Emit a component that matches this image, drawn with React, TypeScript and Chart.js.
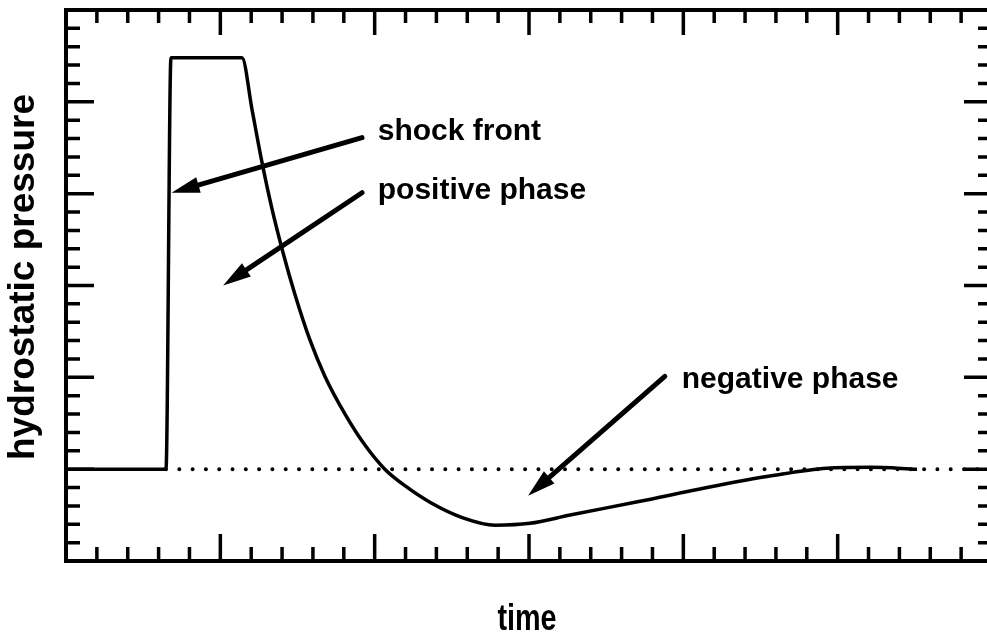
import { useEffect, useRef } from "react";
import { Chart, registerables } from "chart.js";

Chart.register(...registerables);

// Overpressure trace of a blast wave (arbitrary units)
const timeValues = [
  0, 3.24, 3.4, 5.7, 6.03, 6.35, 6.67, 7.03, 7.42, 7.9, 8.39, 9.04, 9.69, 10.33,
  10.98, 11.79, 12.86, 13.9, 15.03, 16.33, 18.6, 20.77, 22.9, 24.65, 26.05, 27.57,
];
const pressureValues = [
  0, 0, 4.48, 4.48, 3.91, 3.34, 2.84, 2.36, 1.9, 1.41, 1.01, 0.6, 0.26, 0,
  -0.18, -0.36, -0.53, -0.61, -0.59, -0.5, -0.35, -0.2, -0.07, 0.01, 0.02, 0,
];

// ambient-pressure reference line
const ambientTimes = [3.24, 30];
const ambientValues = [0, 0];

// axis extents and tick steps
const timeRange = [0, 30];
const pressureRange = [-1, 5];
const timeMinorStep = 1;
const timeMajorEvery = 5;
const pressureMinorStep = 0.2;
const pressureMajorEvery = 5;

// annotations: label, label anchor, arrow tail, arrow tip (data units)
const noteLabels = ["shock front", "positive phase", "negative phase"];
const noteLabelX = [10.1, 10.1, 19.95];
const noteLabelY = [3.58, 2.94, 0.88];
const arrowTailX = [9.59, 9.59, 19.4];
const arrowTailY = [3.61, 3.01, 1.01];
const arrowTipX = [3.42, 5.09, 14.97];
const arrowTipY = [3.01, 2.0, -0.29];

const xTitle = "time";
const yTitle = "hydrostatic pressure";

const FONT = "'Liberation Sans', Arial, sans-serif";

const framePlugin = {
  id: "frameTicksNotes",
  afterDatasetsDraw(chart: any) {
    const { ctx, chartArea } = chart;
    const xs = chart.scales.x;
    const ys = chart.scales.y;
    const { left, right, top, bottom } = chartArea;
    ctx.save();
    ctx.strokeStyle = "#000";
    ctx.fillStyle = "#000";

    // frame
    ctx.lineWidth = 4;
    ctx.strokeRect(left, top, right - left, bottom - top);

    // inward ticks on all four sides
    ctx.lineWidth = 3.5;
    ctx.lineCap = "butt";
    const nX = Math.round((timeRange[1] - timeRange[0]) / timeMinorStep);
    for (let i = 1; i < nX; i++) {
      const v = timeRange[0] + i * timeMinorStep;
      const px = xs.getPixelForValue(v);
      const major = i % timeMajorEvery === 0;
      const lb = major ? 27 : 14;
      const lt = major ? 25 : 13;
      ctx.beginPath();
      ctx.moveTo(px, bottom);
      ctx.lineTo(px, bottom - lb);
      ctx.moveTo(px, top);
      ctx.lineTo(px, top + lt);
      ctx.stroke();
    }
    const nY = Math.round((pressureRange[1] - pressureRange[0]) / pressureMinorStep);
    for (let i = 1; i < nY; i++) {
      const v = pressureRange[0] + i * pressureMinorStep;
      const py = ys.getPixelForValue(v);
      const major = i % pressureMajorEvery === 0;
      const l = major ? 28 : 14;
      ctx.beginPath();
      ctx.moveTo(left, py);
      ctx.lineTo(left + l, py);
      ctx.moveTo(right, py);
      ctx.lineTo(right - l, py);
      ctx.stroke();
    }

    // arrows
    for (let i = 0; i < noteLabels.length; i++) {
      const x0 = xs.getPixelForValue(arrowTailX[i]);
      const y0 = ys.getPixelForValue(arrowTailY[i]);
      const x1 = xs.getPixelForValue(arrowTipX[i]);
      const y1 = ys.getPixelForValue(arrowTipY[i]);
      const ang = Math.atan2(y1 - y0, x1 - x0);
      const headLen = 28;
      const headHalf = 8;
      const bx = x1 - headLen * Math.cos(ang);
      const by = y1 - headLen * Math.sin(ang);
      ctx.lineWidth = 5;
      ctx.lineCap = "round";
      ctx.beginPath();
      ctx.moveTo(x0, y0);
      ctx.lineTo(bx + 4 * Math.cos(ang), by + 4 * Math.sin(ang));
      ctx.stroke();
      ctx.beginPath();
      ctx.moveTo(x1, y1);
      ctx.lineTo(bx + headHalf * Math.sin(ang), by - headHalf * Math.cos(ang));
      ctx.lineTo(bx - headHalf * Math.sin(ang), by + headHalf * Math.cos(ang));
      ctx.closePath();
      ctx.fill();
    }

    // annotation labels
    ctx.font = `bold 30px ${FONT}`;
    ctx.textAlign = "left";
    ctx.textBaseline = "alphabetic";
    for (let i = 0; i < noteLabels.length; i++) {
      ctx.fillText(
        noteLabels[i],
        xs.getPixelForValue(noteLabelX[i]),
        ys.getPixelForValue(noteLabelY[i])
      );
    }

    // axis titles
    ctx.textAlign = "center";
    ctx.save();
    ctx.translate((left + right) / 2 - 2, 630);
    ctx.scale(0.8, 1);
    ctx.font = `bold 36px ${FONT}`;
    ctx.fillText(xTitle, 0, 0);
    ctx.restore();

    ctx.save();
    ctx.translate(34, 277);
    ctx.rotate(-Math.PI / 2);
    ctx.font = `bold 37px ${FONT}`;
    ctx.fillText(yTitle, 0, 0);
    ctx.restore();

    ctx.restore();
  },
};

export default function App() {
  const canvasRef = useRef<HTMLCanvasElement | null>(null);

  useEffect(() => {
    const canvas = canvasRef.current;
    if (!canvas) return;
    const chart = new Chart(canvas, {
      type: "line",
      data: {
        datasets: [
          {
            data: timeValues.map((t, i) => ({ x: t, y: pressureValues[i] })),
            borderColor: "#000",
            borderWidth: 3.5,
            pointRadius: 0,
            fill: false,
            cubicInterpolationMode: "monotone",
          },
          {
            data: ambientTimes.map((t, i) => ({ x: t, y: ambientValues[i] })),
            borderColor: "#000",
            borderWidth: 4,
            borderDash: [0, 13.3],
            borderCapStyle: "round",
            pointRadius: 0,
            fill: false,
          },
        ],
      },
      options: {
        responsive: false,
        animation: false,
        events: [],
        layout: { padding: { left: 66, top: 10, right: 8, bottom: 76 } },
        scales: {
          x: { type: "linear", min: timeRange[0], max: timeRange[1], display: false },
          y: { type: "linear", min: pressureRange[0], max: pressureRange[1], display: false },
        },
        plugins: {
          legend: { display: false },
          tooltip: { enabled: false },
          title: { display: false },
        },
      },
      plugins: [framePlugin],
    });
    return () => chart.destroy();
  }, []);

  return (
    <div
      style={{
        position: "fixed",
        left: 0,
        top: 0,
        width: 987,
        height: 637,
        overflow: "hidden",
        background: "#fff",
      }}
    >
      <canvas ref={canvasRef} width={1000} height={637} style={{ display: "block" }} />
    </div>
  );
}
